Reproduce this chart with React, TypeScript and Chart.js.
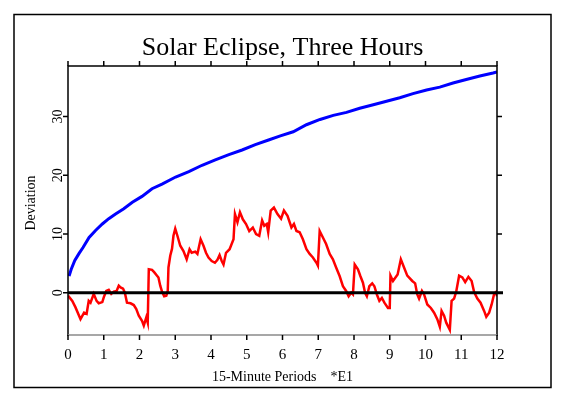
import { useEffect, useRef } from "react";
import { Chart, registerables } from "chart.js";

Chart.register(...registerables);

const TITLE = "Solar Eclipse, Three Hours";
const X_TITLE = "15-Minute Periods    *E1";
const Y_TITLE = "Deviation";
const X_TICKS = [0, 1, 2, 3, 4, 5, 6, 7, 8, 9, 10, 11, 12];
const Y_TICKS = [0, 10, 20, 30];
const X_MIN = 0;
const X_MAX = 12;
const Y_MIN = -7.2;
const Y_MAX = 38.6;

const redX = [
  0.0, 0.12, 0.21, 0.35, 0.45, 0.52, 0.58, 0.63, 0.72, 0.8, 0.86, 0.96, 1.0, 1.07, 1.14, 1.21, 1.28, 1.36,
  1.42, 1.47, 1.54, 1.59, 1.65, 1.75, 1.84, 1.91, 1.98, 2.07, 2.12, 2.19, 2.23, 2.26, 2.35, 2.41, 2.49, 2.53,
  2.58, 2.63, 2.69, 2.75, 2.79, 2.81, 2.86, 2.91, 2.95, 3.0, 3.06, 3.14, 3.23, 3.32, 3.4, 3.46, 3.56, 3.62,
  3.71, 3.79, 3.86, 3.93, 4.02, 4.11, 4.18, 4.24, 4.3, 4.35, 4.42, 4.52, 4.63, 4.67, 4.74, 4.81, 4.89, 4.98,
  5.07, 5.17, 5.26, 5.35, 5.43, 5.49, 5.56, 5.6, 5.67, 5.76, 5.86, 5.96, 6.04, 6.14, 6.25, 6.32, 6.39, 6.48,
  6.57, 6.67, 6.76, 6.85, 6.95, 6.99, 7.04, 7.13, 7.22, 7.32, 7.41, 7.5, 7.6, 7.69, 7.78, 7.85, 7.92, 7.97,
  8.02, 8.11, 8.18, 8.25, 8.31, 8.36, 8.43, 8.51, 8.57, 8.64, 8.71, 8.78, 8.85, 8.95, 9.0, 9.02, 9.09, 9.22,
  9.31, 9.4, 9.49, 9.63, 9.71, 9.77, 9.82, 9.9, 9.96, 10.05, 10.15, 10.24, 10.33, 10.4, 10.45, 10.52, 10.58,
  10.68, 10.73, 10.8, 10.86, 10.94, 11.03, 11.11, 11.2, 11.29, 11.36, 11.45, 11.54, 11.64, 11.7, 11.78, 11.85,
  11.92, 11.97, 12.0,
];
const redY = [
  -0.5, -1.4, -2.5, -4.5, -3.4, -3.6, -1.4, -1.7, -0.2, -1.4, -1.8, -1.6, -0.8, 0.3, 0.5, -0.2, 0.2, 0.3,
  1.2, 0.9, 0.7, 0.0, -1.7, -1.8, -2.1, -2.8, -3.9, -4.8, -5.6, -4.2, -5.1, 4.0, 3.9, 3.5, 2.9, 2.6,
  1.2, 0.2, -0.6, -0.5, 0.3, 4.3, 6.3, 7.5, 9.7, 10.9, 9.7, 8.0, 7.1, 5.7, 7.4, 6.8, 7.0, 6.6,
  9.1, 8.0, 6.8, 6.0, 5.4, 5.1, 5.6, 6.4, 5.4, 4.8, 6.8, 7.4, 9.1, 13.4, 12.0, 13.7, 12.5, 11.7,
  10.5, 11.1, 10.0, 9.7, 12.3, 11.4, 11.7, 10.3, 14.0, 14.5, 13.4, 12.6, 14.0, 13.1, 11.1, 11.7, 10.5, 10.3,
  9.1, 7.4, 6.6, 6.0, 5.1, 4.6, 10.5, 9.4, 8.3, 6.6, 5.7, 4.3, 2.8, 1.1, 0.3, -0.6, 0.0, -0.3,
  4.8, 4.0, 2.8, 1.7, 0.0, -0.6, 1.1, 1.6, 1.1, -0.3, -1.4, -0.9, -1.7, -2.6, -2.6, 2.9, 2.0, 3.1,
  5.7, 4.3, 2.9, 2.0, 1.6, -0.3, -1.0, 0.3, -0.3, -2.0, -2.6, -3.4, -4.5, -5.8, -3.1, -3.9, -5.1,
  -6.3, -1.4, -1.0, 0.2, 2.9, 2.6, 1.8, 2.7, 2.0, 0.1, -1.0, -1.7, -3.1, -4.1, -3.4, -2.0,
  -0.2, 0.1, -0.6,
];

const blueX = [
  0.03, 0.09, 0.19, 0.31, 0.42, 0.59, 0.77, 0.96, 1.14, 1.33, 1.56, 1.8, 2.07, 2.35, 2.63, 3.01, 3.38, 3.75,
  4.12, 4.5, 4.87, 5.24, 5.61, 5.94, 6.3, 6.67, 7.05, 7.42, 7.79, 8.16, 8.54, 8.91, 9.28, 9.65, 10.03, 10.4,
  10.77, 11.14, 11.52, 11.89, 12.0,
];
const blueY = [
  2.85, 4.0, 5.5, 6.7, 7.7, 9.4, 10.6, 11.7, 12.6, 13.4, 14.3, 15.4, 16.4, 17.7, 18.5, 19.7, 20.6, 21.7,
  22.6, 23.5, 24.3, 25.2, 26.0, 26.7, 27.4, 28.6, 29.5, 30.2, 30.7, 31.4, 32.0, 32.6, 33.2, 33.9, 34.5, 35.0,
  35.7, 36.3, 36.9, 37.4, 37.6,
];

const SERIF = "'Liberation Serif', 'DejaVu Serif', serif";

const framePlugin = {
  id: "frameAxes",
  afterDatasetsDraw(chart: any) {
    const { ctx, chartArea: a, scales } = chart;
    const xs = scales.x;
    const ys = scales.y;
    ctx.save();
    ctx.lineCap = "butt";

    // outer frame
    ctx.strokeStyle = "#000";
    ctx.lineWidth = 1.5;
    ctx.strokeRect(14, 14.5, 537, 373);

    // zero line
    const y0 = ys.getPixelForValue(0);
    ctx.lineWidth = 3;
    ctx.beginPath();
    ctx.moveTo(a.left, y0);
    ctx.lineTo(a.right + 6, y0);
    ctx.stroke();

    // plot box: left, top, right black
    ctx.lineWidth = 1.5;
    ctx.beginPath();
    ctx.moveTo(a.left, a.bottom + 1);
    ctx.lineTo(a.left, a.top);
    ctx.lineTo(a.right, a.top);
    ctx.lineTo(a.right, a.bottom + 1);
    ctx.stroke();
    // bottom gray
    ctx.strokeStyle = "#8a8a8a";
    ctx.beginPath();
    ctx.moveTo(a.left, a.bottom);
    ctx.lineTo(a.right, a.bottom);
    ctx.stroke();

    // x ticks top and bottom
    ctx.strokeStyle = "#000";
    ctx.lineWidth = 1.5;
    for (const t of X_TICKS) {
      const px = xs.getPixelForValue(t);
      ctx.beginPath();
      ctx.moveTo(px, a.top);
      ctx.lineTo(px, a.top - 5);
      ctx.moveTo(px, a.bottom);
      ctx.lineTo(px, a.bottom + 5);
      ctx.stroke();
    }
    // y ticks left and right
    for (const t of Y_TICKS) {
      const py = ys.getPixelForValue(t);
      ctx.beginPath();
      ctx.moveTo(a.left, py);
      ctx.lineTo(a.left - 5, py);
      ctx.moveTo(a.right, py);
      ctx.lineTo(a.right + 5, py);
      ctx.stroke();
    }

    // tick labels
    ctx.fillStyle = "#000";
    ctx.font = `15px ${SERIF}`;
    ctx.textAlign = "center";
    ctx.textBaseline = "middle";
    for (const t of X_TICKS) {
      ctx.fillText(String(t), xs.getPixelForValue(t), 355);
    }
    ctx.font = `14px ${SERIF}`;
    for (const t of Y_TICKS) {
      const py = ys.getPixelForValue(t);
      ctx.save();
      ctx.translate(58, py);
      ctx.rotate(-Math.PI / 2);
      ctx.fillText(String(t), 0, 0);
      ctx.restore();
    }

    // axis titles
    ctx.font = `14px ${SERIF}`;
    ctx.fillText(X_TITLE, (a.left + a.right) / 2, 377);
    ctx.save();
    ctx.translate(31, 203);
    ctx.rotate(-Math.PI / 2);
    ctx.fillText(Y_TITLE, 0, 0);
    ctx.restore();

    // title
    ctx.font = `26px ${SERIF}`;
    ctx.textBaseline = "alphabetic";
    ctx.fillText(TITLE, (a.left + a.right) / 2, 55);

    ctx.restore();
  },
};

export default function App() {
  const ref = useRef<HTMLCanvasElement | null>(null);
  useEffect(() => {
    if (!ref.current) return;
    const chart = new Chart(ref.current, {
      type: "line",
      data: {
        datasets: [
          {
            label: "expected",
            data: blueX.map((x, i) => ({ x, y: blueY[i] })),
            borderColor: "#0000ff",
            backgroundColor: "#0000ff",
            borderWidth: 3,
            pointRadius: 0,
            tension: 0,
          },
          {
            label: "deviation",
            data: redX.map((x, i) => ({ x, y: redY[i] })),
            borderColor: "#ff0000",
            backgroundColor: "#ff0000",
            borderWidth: 2.5,
            pointRadius: 0,
            tension: 0,
          },
        ],
      },
      options: {
        animation: false,
        responsive: false,
        devicePixelRatio: 1,
        layout: { padding: { left: 68, top: 66, right: 68, bottom: 62 } },
        plugins: { legend: { display: false }, title: { display: false }, tooltip: { enabled: false } },
        scales: {
          x: { type: "linear", min: X_MIN, max: X_MAX, display: false },
          y: { type: "linear", min: Y_MIN, max: Y_MAX, display: false },
        },
      },
      plugins: [framePlugin],
    });
    return () => chart.destroy();
  }, []);
  return (
    <div style={{ position: "fixed", left: 0, top: 0, width: 565, height: 397, background: "#fff" }}>
      <canvas ref={ref} width={565} height={397} />
    </div>
  );
}
